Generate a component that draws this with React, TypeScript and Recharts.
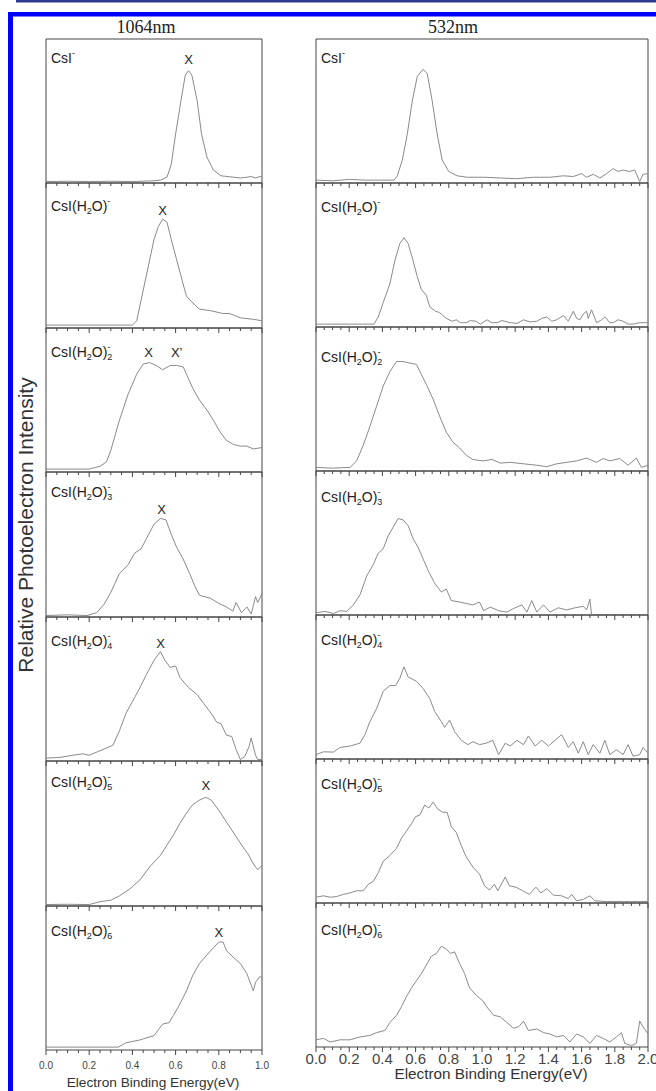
import { LineChart, Line, XAxis, YAxis, ReferenceArea, ReferenceDot } from "recharts"

type Pt = [number, number]
type Peak = { e: number; v: number; text: string }

// 1064 nm spectra: [binding energy eV, intensity as fraction of panel height]
const ir0: Pt[] = [[0, 0.01], [0.1, 0.012], [0.2, 0.01], [0.3, 0.012], [0.4, 0.01], [0.5, 0.015], [0.53, 0.02], [0.56, 0.04], [0.58, 0.13], [0.6, 0.34], [0.63, 0.62], [0.645, 0.75], [0.66, 0.78], [0.675, 0.75], [0.7, 0.57], [0.72, 0.34], [0.745, 0.18], [0.775, 0.09], [0.81, 0.05], [0.87, 0.04], [0.9, 0.035], [0.93, 0.04], [0.95, 0.045], [0.97, 0.035], [0.99, 0.045], [1.0, 0.04]]
const ir1: Pt[] = [[0, 0.02], [0.2, 0.02], [0.4, 0.02], [0.42, 0.05], [0.44, 0.19], [0.47, 0.4], [0.5, 0.61], [0.52, 0.7], [0.54, 0.75], [0.56, 0.73], [0.58, 0.61], [0.605, 0.47], [0.63, 0.33], [0.65, 0.22], [0.675, 0.18], [0.71, 0.13], [0.76, 0.12], [0.82, 0.1], [0.85, 0.1], [0.9, 0.07], [0.96, 0.06], [1.0, 0.05]]
const ir2: Pt[] = [[0, 0.02], [0.1, 0.02], [0.2, 0.02], [0.25, 0.04], [0.28, 0.07], [0.3, 0.15], [0.34, 0.36], [0.38, 0.54], [0.42, 0.68], [0.45, 0.75], [0.48, 0.76], [0.51, 0.74], [0.54, 0.71], [0.575, 0.74], [0.605, 0.74], [0.635, 0.73], [0.65, 0.68], [0.68, 0.58], [0.71, 0.5], [0.745, 0.43], [0.775, 0.36], [0.805, 0.28], [0.835, 0.22], [0.87, 0.19], [0.9, 0.18], [0.93, 0.18], [0.96, 0.16], [1.0, 0.17]]
const ir3: Pt[] = [[0, 0.01], [0.1, 0.015], [0.19, 0.01], [0.235, 0.03], [0.27, 0.09], [0.3, 0.17], [0.34, 0.3], [0.38, 0.36], [0.41, 0.44], [0.44, 0.47], [0.465, 0.54], [0.5, 0.64], [0.53, 0.68], [0.555, 0.67], [0.58, 0.57], [0.605, 0.48], [0.635, 0.4], [0.665, 0.3], [0.69, 0.21], [0.71, 0.15], [0.76, 0.13], [0.805, 0.09], [0.835, 0.07], [0.865, 0.04], [0.88, 0.1], [0.905, 0.03], [0.93, 0.07], [0.95, 0.02], [0.97, 0.14], [0.98, 0.1], [1.0, 0.16]]
const ir4: Pt[] = [[0, 0.02], [0.065, 0.025], [0.125, 0.04], [0.17, 0.05], [0.2, 0.04], [0.24, 0.065], [0.28, 0.09], [0.31, 0.11], [0.34, 0.21], [0.37, 0.33], [0.41, 0.44], [0.435, 0.51], [0.465, 0.6], [0.5, 0.7], [0.53, 0.76], [0.55, 0.7], [0.575, 0.65], [0.6, 0.66], [0.62, 0.58], [0.66, 0.51], [0.7, 0.46], [0.73, 0.4], [0.75, 0.36], [0.77, 0.32], [0.79, 0.27], [0.81, 0.26], [0.835, 0.18], [0.86, 0.17], [0.88, 0.08], [0.9, 0.01], [0.92, 0.03], [0.94, 0.1], [0.95, 0.16], [0.97, 0.04], [0.98, 0.01], [1.0, 0.01]]
const ir5: Pt[] = [[0, 0.01], [0.1, 0.012], [0.2, 0.01], [0.25, 0.03], [0.3, 0.04], [0.34, 0.07], [0.39, 0.12], [0.435, 0.18], [0.48, 0.27], [0.53, 0.35], [0.56, 0.42], [0.59, 0.49], [0.62, 0.57], [0.65, 0.64], [0.68, 0.7], [0.71, 0.73], [0.74, 0.75], [0.765, 0.73], [0.8, 0.66], [0.835, 0.58], [0.875, 0.49], [0.915, 0.4], [0.935, 0.36], [0.96, 0.29], [0.98, 0.25], [1.0, 0.28]]
const ir6: Pt[] = [[0, 0.02], [0.1, 0.02], [0.2, 0.02], [0.335, 0.02], [0.37, 0.05], [0.435, 0.07], [0.5, 0.1], [0.52, 0.14], [0.54, 0.18], [0.57, 0.19], [0.59, 0.24], [0.62, 0.32], [0.65, 0.41], [0.68, 0.52], [0.71, 0.6], [0.745, 0.66], [0.775, 0.71], [0.8, 0.75], [0.82, 0.75], [0.835, 0.69], [0.87, 0.64], [0.9, 0.6], [0.93, 0.53], [0.96, 0.41], [0.97, 0.47], [0.99, 0.51], [1.0, 0.5]]

// 532 nm spectra
const uv0: Pt[] = [[0, 0.02], [0.1, 0.015], [0.2, 0.025], [0.3, 0.02], [0.47, 0.02], [0.49, 0.05], [0.52, 0.16], [0.55, 0.34], [0.58, 0.57], [0.61, 0.74], [0.645, 0.79], [0.67, 0.76], [0.7, 0.57], [0.73, 0.34], [0.76, 0.16], [0.8, 0.08], [0.85, 0.05], [0.91, 0.04], [1.01, 0.04], [1.11, 0.035], [1.21, 0.03], [1.31, 0.04], [1.41, 0.04], [1.49, 0.05], [1.55, 0.045], [1.6, 0.065], [1.63, 0.04], [1.67, 0.06], [1.71, 0.035], [1.75, 0.065], [1.79, 0.1], [1.82, 0.08], [1.85, 0.09], [1.89, 0.08], [1.92, 0.09], [1.95, 0.01], [1.97, 0.06], [2.0, 0.065]]
const uv1: Pt[] = [[0, 0.02], [0.2, 0.02], [0.35, 0.02], [0.375, 0.07], [0.405, 0.17], [0.445, 0.3], [0.475, 0.46], [0.505, 0.58], [0.53, 0.62], [0.555, 0.58], [0.585, 0.46], [0.61, 0.35], [0.635, 0.26], [0.665, 0.22], [0.685, 0.14], [0.72, 0.11], [0.745, 0.1], [0.785, 0.06], [0.82, 0.04], [0.845, 0.05], [0.87, 0.03], [0.905, 0.03], [0.93, 0.045], [0.965, 0.04], [0.99, 0.02], [1.03, 0.05], [1.06, 0.03], [1.09, 0.03], [1.12, 0.045], [1.17, 0.03], [1.21, 0.025], [1.25, 0.05], [1.29, 0.035], [1.33, 0.04], [1.36, 0.06], [1.39, 0.07], [1.42, 0.04], [1.45, 0.05], [1.49, 0.08], [1.52, 0.04], [1.55, 0.11], [1.57, 0.06], [1.59, 0.05], [1.61, 0.09], [1.63, 0.11], [1.64, 0.06], [1.66, 0.12], [1.69, 0.03], [1.72, 0.05], [1.74, 0.07], [1.77, 0.03], [1.79, 0.03], [1.82, 0.05], [1.85, 0.04], [1.88, 0.02], [1.91, 0.02], [1.95, 0.03], [2.0, 0.03]]
const uv2: Pt[] = [[0, 0.025], [0.1, 0.02], [0.205, 0.025], [0.245, 0.07], [0.285, 0.18], [0.325, 0.31], [0.365, 0.45], [0.405, 0.59], [0.445, 0.69], [0.485, 0.76], [0.525, 0.76], [0.565, 0.75], [0.605, 0.74], [0.635, 0.67], [0.665, 0.6], [0.705, 0.5], [0.745, 0.38], [0.785, 0.27], [0.825, 0.2], [0.865, 0.16], [0.905, 0.11], [0.945, 0.08], [1.005, 0.07], [1.06, 0.08], [1.11, 0.055], [1.17, 0.06], [1.25, 0.05], [1.33, 0.04], [1.39, 0.03], [1.45, 0.05], [1.51, 0.06], [1.57, 0.07], [1.63, 0.09], [1.69, 0.06], [1.73, 0.087], [1.77, 0.07], [1.83, 0.087], [1.88, 0.04], [1.93, 0.09], [1.96, 0.025], [2.0, 0.04]]
const uv3: Pt[] = [[0, 0.015], [0.055, 0.025], [0.105, 0.01], [0.145, 0.03], [0.185, 0.025], [0.225, 0.07], [0.265, 0.14], [0.305, 0.27], [0.345, 0.35], [0.375, 0.43], [0.405, 0.46], [0.435, 0.55], [0.465, 0.61], [0.495, 0.67], [0.525, 0.66], [0.555, 0.62], [0.585, 0.53], [0.615, 0.47], [0.645, 0.39], [0.675, 0.31], [0.715, 0.22], [0.755, 0.16], [0.785, 0.18], [0.815, 0.1], [0.865, 0.09], [0.905, 0.08], [0.945, 0.07], [0.985, 0.09], [1.01, 0.03], [1.05, 0.055], [1.1, 0.03], [1.15, 0.02], [1.19, 0.045], [1.24, 0.07], [1.27, 0.02], [1.3, 0.1], [1.33, 0.02], [1.37, 0.07], [1.41, 0.02], [1.46, 0.05], [1.51, 0.035], [1.56, 0.05], [1.61, 0.06], [1.63, 0.035], [1.65, 0.11], [1.66, 0.0], [2.0, 0.0]]
const uv4: Pt[] = [[0, 0.03], [0.045, 0.05], [0.105, 0.048], [0.145, 0.08], [0.205, 0.09], [0.265, 0.11], [0.295, 0.17], [0.325, 0.26], [0.365, 0.35], [0.405, 0.47], [0.445, 0.51], [0.48, 0.51], [0.505, 0.56], [0.53, 0.64], [0.555, 0.57], [0.605, 0.54], [0.645, 0.49], [0.685, 0.42], [0.715, 0.33], [0.755, 0.26], [0.775, 0.22], [0.805, 0.27], [0.835, 0.19], [0.875, 0.13], [0.915, 0.1], [0.945, 0.12], [0.985, 0.1], [1.025, 0.11], [1.065, 0.13], [1.1, 0.03], [1.14, 0.11], [1.17, 0.09], [1.21, 0.13], [1.25, 0.1], [1.28, 0.16], [1.32, 0.09], [1.36, 0.13], [1.4, 0.09], [1.44, 0.13], [1.48, 0.17], [1.52, 0.08], [1.55, 0.12], [1.58, 0.04], [1.61, 0.12], [1.64, 0.03], [1.67, 0.1], [1.71, 0.04], [1.74, 0.13], [1.77, 0.03], [1.81, 0.065], [1.85, 0.03], [1.88, 0.1], [1.91, 0.02], [1.95, 0.03], [1.97, 0.08], [2.0, 0.04]]
const uv5: Pt[] = [[0, 0.04], [0.045, 0.05], [0.085, 0.04], [0.125, 0.045], [0.165, 0.06], [0.205, 0.07], [0.245, 0.085], [0.285, 0.085], [0.315, 0.13], [0.345, 0.15], [0.375, 0.21], [0.405, 0.29], [0.445, 0.33], [0.485, 0.38], [0.515, 0.45], [0.545, 0.5], [0.575, 0.55], [0.6, 0.6], [0.625, 0.61], [0.655, 0.68], [0.68, 0.66], [0.705, 0.7], [0.735, 0.65], [0.765, 0.63], [0.79, 0.63], [0.815, 0.53], [0.845, 0.49], [0.875, 0.4], [0.905, 0.32], [0.945, 0.25], [0.985, 0.2], [1.015, 0.12], [1.045, 0.09], [1.075, 0.13], [1.095, 0.085], [1.14, 0.18], [1.165, 0.12], [1.205, 0.11], [1.245, 0.085], [1.285, 0.06], [1.325, 0.11], [1.355, 0.07], [1.39, 0.1], [1.43, 0.055], [1.48, 0.05], [1.52, 0.03], [1.54, 0.06], [1.57, 0.015], [1.61, 0.025], [1.65, 0.05], [1.68, 0.015], [1.75, 0.01], [1.85, 0.01], [2.0, 0.01]]
const uv6: Pt[] = [[0, 0.05], [0.045, 0.06], [0.085, 0.035], [0.145, 0.05], [0.205, 0.05], [0.265, 0.07], [0.325, 0.08], [0.365, 0.1], [0.415, 0.115], [0.445, 0.17], [0.485, 0.22], [0.515, 0.28], [0.545, 0.35], [0.575, 0.41], [0.605, 0.46], [0.635, 0.51], [0.665, 0.57], [0.695, 0.63], [0.725, 0.65], [0.755, 0.7], [0.785, 0.68], [0.81, 0.65], [0.835, 0.66], [0.865, 0.58], [0.895, 0.51], [0.925, 0.41], [0.965, 0.36], [1.005, 0.32], [1.035, 0.27], [1.07, 0.22], [1.11, 0.21], [1.15, 0.17], [1.19, 0.13], [1.22, 0.14], [1.25, 0.18], [1.28, 0.115], [1.33, 0.125], [1.37, 0.1], [1.41, 0.09], [1.45, 0.07], [1.49, 0.08], [1.53, 0.035], [1.57, 0.09], [1.61, 0.07], [1.65, 0.025], [1.69, 0.08], [1.73, 0.06], [1.77, 0.035], [1.81, 0.07], [1.84, 0.1], [1.86, 0.025], [1.9, 0.01], [1.93, 0.025], [1.95, 0.18], [1.97, 0.14], [2.0, 0.09]]

const irSpectra = [ir0, ir1, ir2, ir3, ir4, ir5, ir6]
const uvSpectra = [uv0, uv1, uv2, uv3, uv4, uv5, uv6]

// peak markers on the 1064 nm panels
const irPeaks: Peak[][] = [
  [{ e: 0.66, v: 0.86, text: "X" }],
  [{ e: 0.54, v: 0.81, text: "X" }],
  [{ e: 0.475, v: 0.83, text: "X" }, { e: 0.605, v: 0.83, text: "X’" }],
  [{ e: 0.535, v: 0.74, text: "X" }],
  [{ e: 0.53, v: 0.82, text: "X" }],
  [{ e: 0.74, v: 0.83, text: "X" }],
  [{ e: 0.8, v: 0.82, text: "X" }],
]

const waterCount = [0, 1, 2, 3, 4, 5, 6]

const irTicks = [0, 0.05, 0.1, 0.15, 0.2, 0.25, 0.3, 0.35, 0.4, 0.45, 0.5, 0.55, 0.6, 0.65, 0.7, 0.75, 0.8, 0.85, 0.9, 0.95, 1.0]
const uvTicks = [0, 0.05, 0.1, 0.15, 0.2, 0.25, 0.3, 0.35, 0.4, 0.45, 0.5, 0.55, 0.6, 0.65, 0.7, 0.75, 0.8, 0.85, 0.9, 0.95, 1.0, 1.05, 1.1, 1.15, 1.2, 1.25, 1.3, 1.35, 1.4, 1.45, 1.5, 1.55, 1.6, 1.65, 1.7, 1.75, 1.8, 1.85, 1.9, 1.95, 2.0]

const SANS = "'Liberation Sans', Arial, Helvetica, sans-serif"
const SERIF = "'Liberation Serif', 'Times New Roman', serif"
const FRAME = "#444"
const AXIS_H = 30

const leftCol = { x: 46, w: 216, tops: [39, 183, 328, 472, 617, 761, 906], bottom: 1050, xMax: 1, tickFont: 10, tickDy: 19, labelX: 51, labelDy: [24, 27.5, 29, 25, 28.5, 26, 29.5] }
const rightCol = { x: 316, w: 332, tops: [39, 183, 327, 471, 615, 759, 903], bottom: 1047, xMax: 2, tickFont: 15, tickDy: 17, labelX: 321, labelDy: [24, 29, 35, 31, 30, 30, 32] }

function AxisTick(props: any) {
  const { x, y, payload, showLabel, fontSize, dy } = props
  const v = payload.value
  const major = Math.abs(v / 0.2 - Math.round(v / 0.2)) < 1e-6
  return (
    <g>
      <line x1={x} x2={x} y1={y} y2={y + (major ? 5 : 3)} stroke={FRAME} strokeWidth={1} />
      {showLabel && major && (
        <text x={x} y={y + dy} textAnchor="middle" fontSize={fontSize} fill="#444" fontFamily={SANS}>
          {v.toFixed(1)}
        </text>
      )}
    </g>
  )
}

function Panel({ pts, left, top, width, height, xMax, ticks, last, tickFont, tickDy, peaks }: any) {
  const data = pts.map(([e, v]: Pt) => ({ e, v }))
  return (
    <div style={{ position: "absolute", left: left - 0.5, top: top - 0.5 }}>
      <LineChart width={width} height={height + AXIS_H} data={data} margin={{ top: 0, right: 0, bottom: 0, left: 0 }}>
        <XAxis
          type="number"
          dataKey="e"
          domain={[0, xMax]}
          ticks={ticks}
          interval={0}
          height={AXIS_H}
          tickLine={false}
          axisLine={false}
          tickSize={0}
          tickMargin={0}
          tick={(p: any) => <AxisTick {...p} showLabel={last} fontSize={tickFont} dy={tickDy} />}
        />
        <YAxis type="number" domain={[0, 1]} hide allowDataOverflow />
        <ReferenceArea x1={0} x2={xMax} y1={0} y2={1} fill="none" stroke={FRAME} strokeWidth={1} fillOpacity={0} />
        <Line type="linear" dataKey="v" stroke="#8a8a8a" strokeWidth={1} dot={false} isAnimationActive={false} />
        {peaks.map((p: Peak, i: number) => (
          <ReferenceDot
            key={i}
            x={p.e}
            y={p.v}
            r={0}
            fill="none"
            stroke="none"
            label={{ value: p.text, position: "center", fill: "#222", fontSize: 13, fontFamily: SANS }}
          />
        ))}
      </LineChart>
    </div>
  )
}

function Species({ x, y, n }: { x: number; y: number; n: number }) {
  return (
    <text x={x} y={y} fontSize={14} fill="#222" fontFamily={SANS}>
      CsI
      {n > 0 && (
        <>
          (H<tspan dy={3} fontSize={9}>2</tspan>
          <tspan dy={-3}>O)</tspan>
        </>
      )}
      {n > 1 && (
        <tspan dy={3} fontSize={9}>
          {n}
        </tspan>
      )}
      <tspan dx={n > 1 ? -5 : 0} dy={n > 1 ? -10 : -7} fontSize={9}>
        -
      </tspan>
    </text>
  )
}

function Column({ col, spectra, peaks }: any) {
  return (
    <>
      {spectra.map((pts: Pt[], i: number) => {
        const top = col.tops[i]
        const bottom = i < 6 ? col.tops[i + 1] : col.bottom
        return (
          <Panel
            key={i}
            pts={pts}
            left={col.x}
            top={top}
            width={col.w}
            height={bottom - top}
            xMax={col.xMax}
            ticks={col.xMax === 1 ? irTicks : uvTicks}
            last={i === 6}
            tickFont={col.tickFont}
            tickDy={col.tickDy}
            peaks={peaks ? peaks[i] : []}
          />
        )
      })}
    </>
  )
}

export default function App() {
  return (
    <div
      style={{
        position: "absolute",
        left: 0,
        top: 0,
        width: 656,
        height: 1091,
        overflow: "hidden",
        background: "#fff",
        fontFamily: SANS,
      }}
    >
      <style>{`.recharts-surface{overflow:visible}`}</style>
      <Column col={leftCol} spectra={irSpectra} peaks={irPeaks} />
      <Column col={rightCol} spectra={uvSpectra} />
      <svg width={656} height={1091} style={{ position: "absolute", left: 0, top: 0, pointerEvents: "none" }}>
        <rect x={16} y={0} width={640} height={2.5} fill="#2c3a8e" />
        <rect x={8} y={12} width={648} height={4.5} fill="#0000ff" />
        <rect x={8} y={12} width={5} height={1079} fill="#0000ff" />
        <text x={146} y={33} textAnchor="middle" fontSize={18} fontFamily={SERIF} fill="#222">
          1064nm
        </text>
        <text x={453} y={33} textAnchor="middle" fontSize={18} fontFamily={SERIF} fill="#222">
          532nm
        </text>
        <text transform="translate(33,525) rotate(-90)" textAnchor="middle" fontSize={21} fill="#333" fontFamily={SANS}>
          Relative Photoelectron Intensity
        </text>
        <text x={153} y={1087} textAnchor="middle" fontSize={13.7} fill="#333" fontFamily={SANS}>
          Electron Binding Energy(eV)
        </text>
        <text x={491} y={1079} textAnchor="middle" fontSize={15.3} fill="#333" fontFamily={SANS}>
          Electron Binding Energy(eV)
        </text>
        {waterCount.map((n, i) => (
          <Species key={"l" + i} x={leftCol.labelX} y={leftCol.tops[i] + leftCol.labelDy[i]} n={n} />
        ))}
        {waterCount.map((n, i) => (
          <Species key={"r" + i} x={rightCol.labelX} y={rightCol.tops[i] + rightCol.labelDy[i]} n={n} />
        ))}
      </svg>
    </div>
  )
}
